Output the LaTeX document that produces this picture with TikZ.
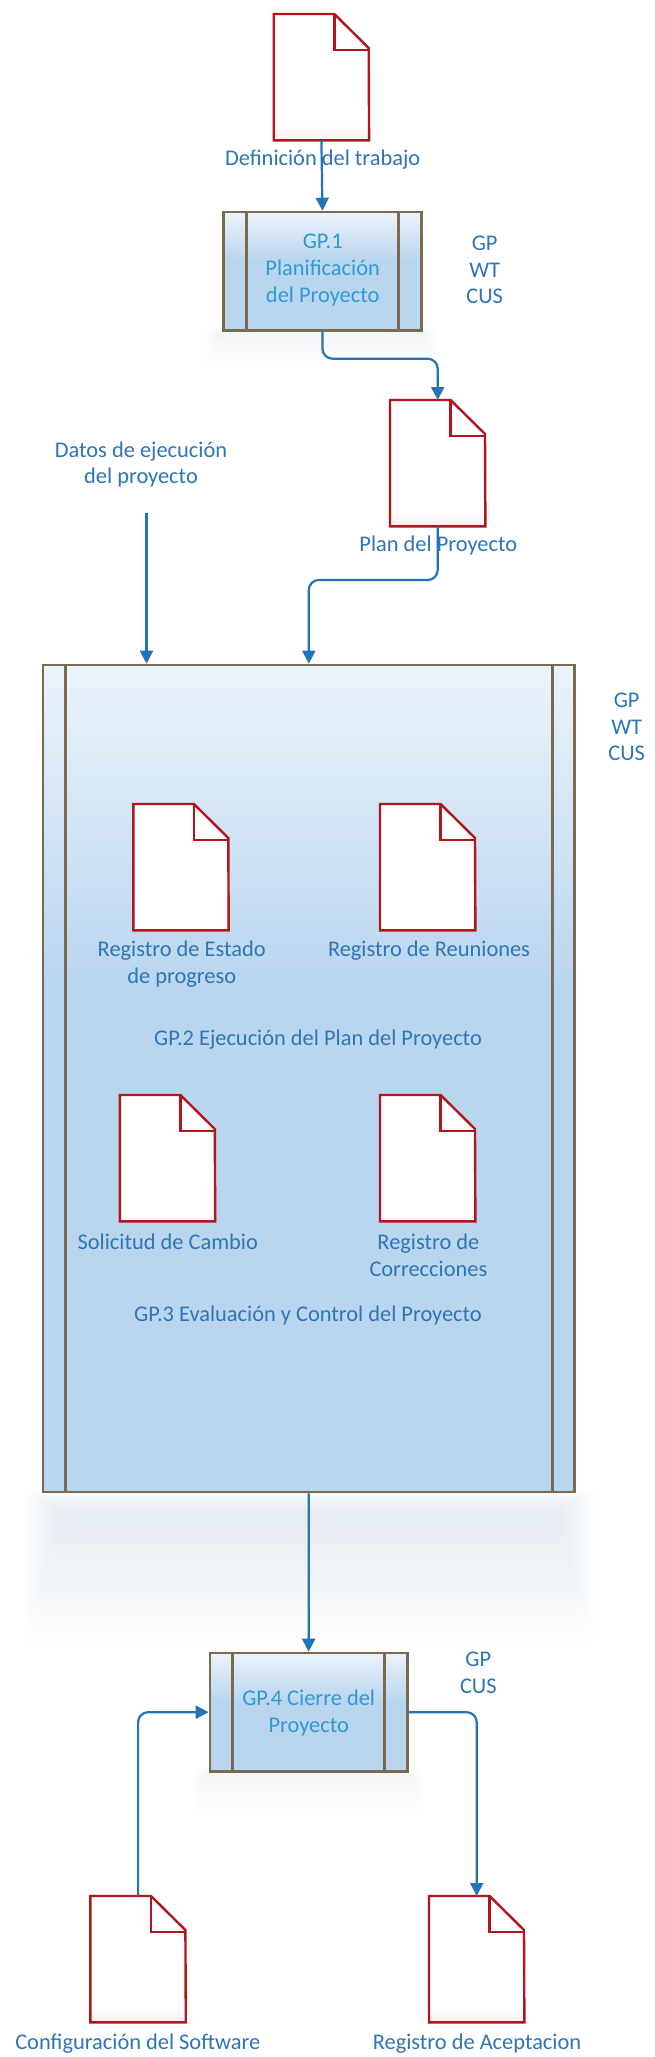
\documentclass[tikz,border=0pt]{standalone}
\usepackage{fontspec}
\setmainfont{Carlito}
\usetikzlibrary{arrows.meta,calc}
\definecolor{lbl}{HTML}{2E75B6}
\definecolor{prc}{HTML}{2E9AD3}
\definecolor{flowc}{HTML}{2274B5}
\definecolor{edge}{HTML}{7A6A50}
\definecolor{docr}{HTML}{B0161C}
\definecolor{boxlo}{HTML}{BAD6EF}
\definecolor{boxmid}{HTML}{D2E4F5}
\definecolor{boxhi}{HTML}{EBF3FA}
\definecolor{pink}{HTML}{FCF0EE}
\definecolor{shade}{HTML}{E6EDF3}
\definecolor{shadelt}{HTML}{F3F6F9}
\pgfdeclareverticalshading{boxshort}{100bp}{color(0bp)=(boxlo);color(25bp)=(boxlo);color(55bp)=(boxlo);color(75bp)=(boxhi);color(100bp)=(boxhi)}
\pgfdeclareverticalshading{boxtall}{100bp}{color(0bp)=(boxlo);color(25bp)=(boxlo);color(56bp)=(boxlo);color(65bp)=(boxmid);color(75bp)=(boxhi);color(100bp)=(boxhi)}
\pgfdeclareverticalshading{docglow}{100bp}{color(0bp)=(pink);color(25bp)=(pink);color(31bp)=(white);color(100bp)=(white)}
\tikzset{
  x=1pt,y=-1pt,
  lab/.style={text=lbl,font=\fontsize{22.4}{26.7}\selectfont,align=center,inner sep=0pt},
  proctext/.style={text=prc,font=\fontsize{22.4}{26.7}\selectfont,align=center,inner sep=0pt},
  flow/.style={draw=flowc,line width=2.2pt,-{Triangle[length=13pt,width=13pt]}},
  procbox/.style={draw=edge,line width=2.6pt,inner sep=0pt,anchor=north west,line join=miter},
  docbox/.style={inner sep=0pt,anchor=north west,minimum width=95pt,minimum height=126pt},
  docline/.style={draw=docr,line width=2.4pt,line join=miter},
  bar/.style={draw=edge,line width=2.6pt},
}
% name, left, top, fill or shading
\newcommand{\docu}[4]{%
  \node[docbox] (#1) at (#2,#3) {};
  \path[docline,#4]
     (#1.north west) -- ++(60.6,0) -- ++(34.4,34) -- (#1.south east) -- (#1.south west) -- cycle;
  \draw[docline] ($(#1.north west)+(60.6,0)$) -- ++(0,36) -- ++(34.4,0);
}
\newcommand{\procb}[7]{% name left top width height inset shading
  \node[procbox,shading=#7,minimum width=#4pt,minimum height=#5pt] (#1) at (#2,#3) {};
  \draw[bar] ($(#1.north west)+(#6,0)$) -- ($(#1.south west)+(#6,0)$);
  \draw[bar] ($(#1.north east)-(#6,0)$) -- ($(#1.south east)-(#6,0)$);
}
% soft shadow below a box, opaque nested layers from pale to full:
% left right top bottom lastlayer colour xstep ystep
\newcommand{\softshadow}[8]{%
  \foreach \i in {0,...,#5}{
    \pgfmathsetmacro{\mixp}{100*(\i+1)/(#5+1)}
    \fill[fill=#6!\mixp!white,rounded corners=6pt]
      (#1+\i*#7,#3+\i*0.8) rectangle (#2-\i*#7,#4-\i*#8);
  }
}
\begin{document}
\begin{tikzpicture}
\useasboundingbox (0,0) rectangle (655,2057);
\fill[white] (0,0) rectangle (655,2057);
% shadows
\softshadow{24}{594}{1490}{1642}{24}{shade}{1.5}{5}
\softshadow{205}{437}{326}{368}{12}{shadelt}{1}{3}
\softshadow{193}{423}{1767}{1815}{12}{shadelt}{1}{3.5}
% process boxes
\procb{b1}{222.3}{210.7}{197.7}{118.6}{24.4}{boxshort}
\procb{b2}{41.7}{663.7}{531.6}{827}{23.6}{boxtall}
\procb{b4}{208.7}{1651.7}{197.3}{118.3}{24}{boxshort}
% documents
\docu{d1}{273.7}{14}{shading=docglow}
\docu{d2}{390}{400}{shading=docglow}
\docu{d3}{133.3}{804}{fill=white}
\docu{d4}{380}{804}{fill=white}
\docu{d5}{119.8}{1095}{fill=white}
\docu{d6}{380}{1095}{fill=white}
\docu{d7}{90.4}{1896}{shading=docglow}
\docu{d8}{429}{1896}{shading=docglow}
% labels
\node[lab] (t1) at (322.7,159.5) {Definición del trabajo};
\node[proctext] (t2) at (322.7,270) {GP.1\\Planificación\\del Proyecto};
\node[lab] (t3) at (484.7,270) {GP\\WT\\CUS};
\node[lab] (t4) at (141,464.5) {Datos de ejecución\\del proyecto};
\node[lab] (t5) at (438.3,546) {Plan del Proyecto};
\node[lab] (t6) at (626.7,727) {GP\\WT\\CUS};
\node[lab] (t7) at (181.7,964) {Registro de Estado\\de progreso};
\node[lab] (t8) at (429,951) {Registro de Reuniones};
\node[lab] (t9) at (318,1040) {GP.2 Ejecución del Plan del Proyecto};
\node[lab] (t10) at (167.8,1242) {Solicitud de Cambio};
\node[lab] (t11) at (428.4,1255.5) {Registro de\\Correcciones};
\node[lab] (t12) at (308,1315.5) {GP.3 Evaluación y Control del Proyecto};
\node[proctext] (t13) at (308.7,1713) {GP.4 Cierre del\\Proyecto};
\node[lab] (t14) at (478.3,1673) {GP\\CUS};
\node[lab] (t15) at (137.8,2043.5) {Configuración del Software};
\node[lab] (t16) at (477,2043.5) {Registro de Aceptacion};
% connectors
\coordinate (dstart) at (146.5,513);
\draw[flow] (d1.south) -- (b1.north);
\draw[flow,rounded corners=10pt] (b1.south) -- (b1.south |- 0,358.7) -- (d2.north |- 0,358.7) -- (d2.north);
\draw[flow] (dstart) -- (dstart |- b2.north);
\draw[flow,rounded corners=10pt] (d2.south) -- (d2.south |- 0,580) -- (b2.north |- 0,580) -- (b2.north);
\draw[flow] (b2.south) -- (b4.north);
\draw[flow,rounded corners=10pt] (d7.north) -- (d7.north |- b4.west) -- (b4.west);
\draw[flow,rounded corners=10pt] (b4.east) -- (d8.north |- b4.east) -- (d8.north);
\end{tikzpicture}
\end{document}
